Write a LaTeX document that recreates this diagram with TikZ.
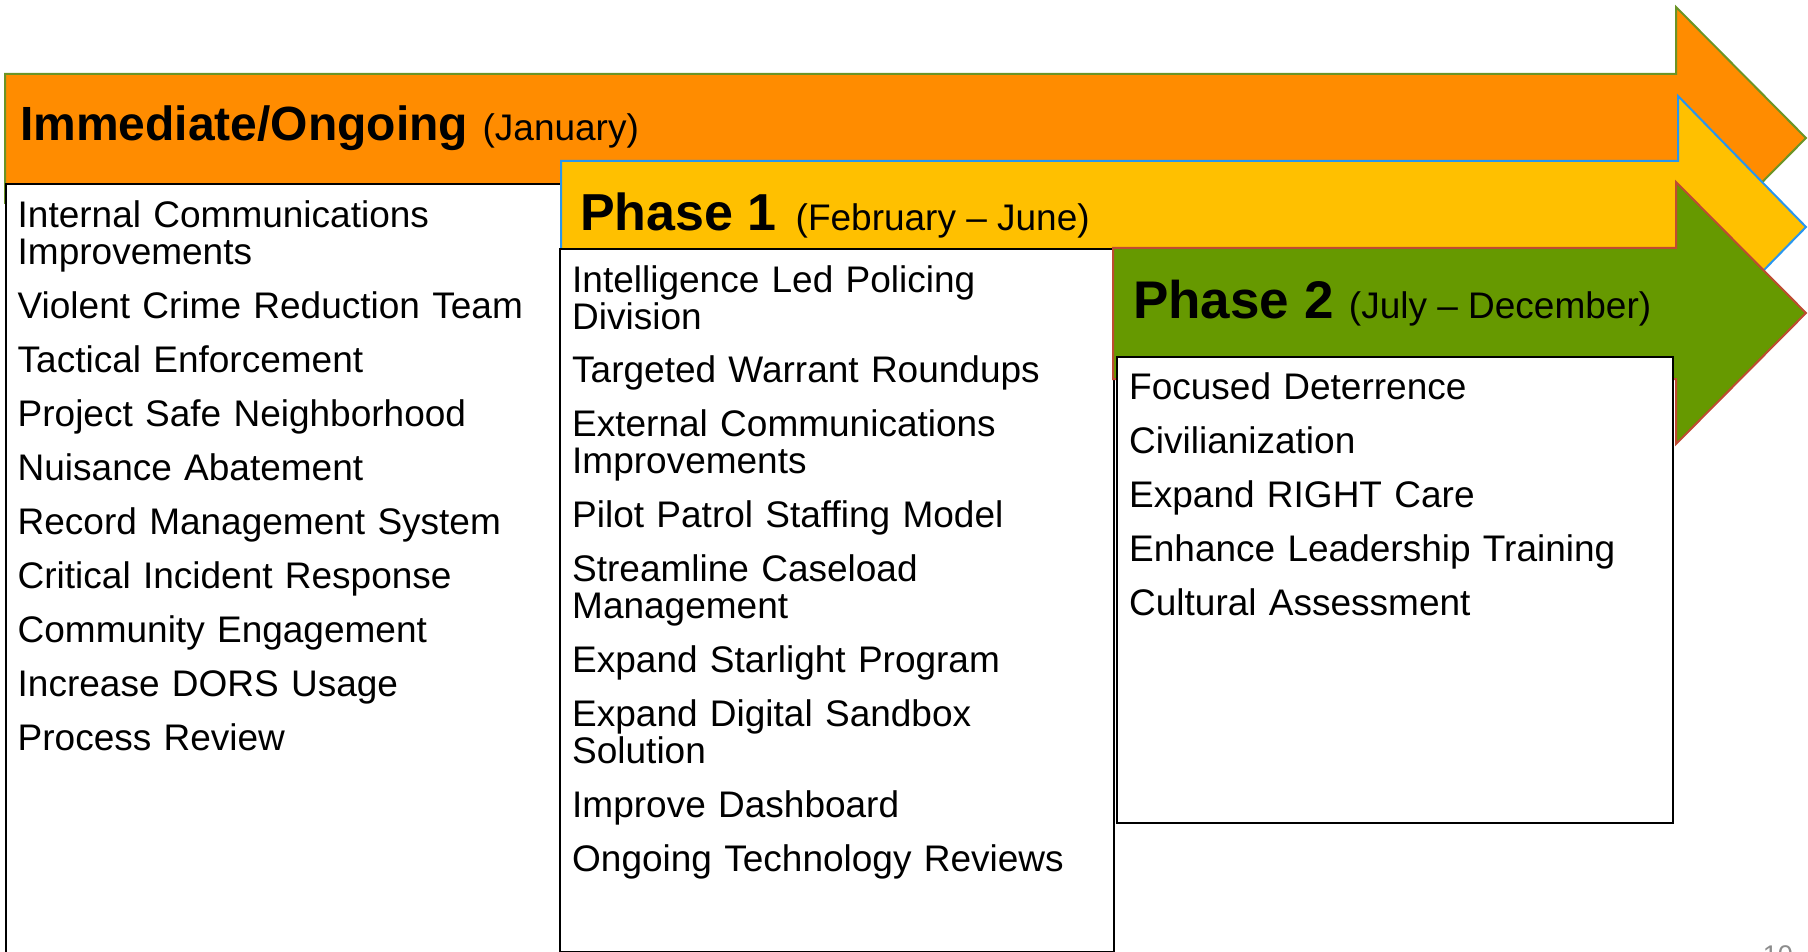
\documentclass[tikz,border=0pt]{standalone}
\usepackage{fontspec}
\setmainfont{Liberation Sans}
\usetikzlibrary{positioning}
\definecolor{nowfill}{RGB}{255,140,0}
\definecolor{nowline}{RGB}{107,148,38}
\definecolor{onefill}{RGB}{255,192,0}
\definecolor{oneline}{RGB}{40,150,240}
\definecolor{twofill}{RGB}{102,153,0}
\definecolor{twoline}{RGB}{190,75,50}
\definecolor{pagegray}{RGB}{140,140,140}
\tikzset{nowarrow/.style={fill=nowfill,draw=nowline,line width=2pt},
	 onearrow/.style={fill=onefill,draw=oneline,line width=2pt},
	 twoarrow/.style={fill=twofill,draw=twoline,line width=2pt},
	 listbox/.style={rectangle,draw=black,fill=white,line width=2pt,inner sep=0pt,anchor=north west},
	 itemlist/.style={text width=530pt,align=left,inner sep=0pt,anchor=base west,font=\fontsize{37}{37}\selectfont},
	 headtext/.style={inner sep=0pt,anchor=base west,font=\fontsize{#1}{#1}\selectfont\bfseries},
	 datetext/.style={inner sep=0pt,font=\fontsize{37}{37}\selectfont}
	 }

\begin{document}
\begin{tikzpicture}[x=1pt,y=-1pt] % roadmap: three overlapping phase arrows
	\useasboundingbox (0,0) rectangle (1808,952);
	\clip (0,0) rectangle (1808,952);
	% immediate / ongoing
	\draw[nowarrow] (5,74) -- (1676,74) -- (1676,7) -- (1806,138) -- (1676,269) -- (1676,203) -- (5,203) -- cycle;
	\node[headtext=48] (head0) at (20,141) {Immediate/Ongoing};
	\node[datetext] (date0) [base right=14pt of head0] {(January)};
	\node[listbox,minimum width=556pt,minimum height=790pt] (box0) at (5,183) {};
	\node[itemlist] (list0) at ([xshift=12.5pt,yshift=-45pt]box0.north west)
		{Internal Communications\\Improvements\\[17pt]
		 Violent Crime Reduction Team\\[17pt]
		 Tactical Enforcement\\[17pt]
		 Project Safe Neighborhood\\[17pt]
		 Nuisance Abatement\\[17pt]
		 Record Management System\\[17pt]
		 Critical Incident Response\\[17pt]
		 Community Engagement\\[17pt]
		 Increase DORS Usage\\[17pt]
		 Process Review};
	% phase 1
	\draw[onearrow] (561,161) -- (1678,161) -- (1678,96) -- (1806,227) -- (1678,358) -- (1678,293) -- (561,293) -- cycle;
	\node[headtext=52] (head1) at (580,231) {Phase 1};
	\node[datetext] (date1) [base right=18.5pt of head1] {(February – June)};
	\node[listbox,minimum width=554pt,minimum height=703pt] (box1) at (559,248) {};
	\node[itemlist] (list1) at ([xshift=13pt,yshift=-44pt]box1.north west)
		{Intelligence Led Policing\\Division\\[17pt]
		 Targeted Warrant Roundups\\[17pt]
		 External Communications\\Improvements\\[17pt]
		 Pilot Patrol Staffing Model\\[17pt]
		 Streamline Caseload\\Management\\[17pt]
		 Expand Starlight Program\\[17pt]
		 Expand Digital Sandbox\\Solution\\[17pt]
		 Improve Dashboard\\[17pt]
		 Ongoing Technology Reviews};
	% phase 2
	\draw[twoarrow] (1113,248) -- (1676,248) -- (1676,182) -- (1806,313) -- (1676,444) -- (1676,379) -- (1113,379) -- cycle;
	\node[headtext=53] (head2) at (1133,319) {Phase 2};
	\node[datetext] (date2) [base right=15pt of head2] {(July – December)};
	\node[listbox,minimum width=556pt,minimum height=466pt] (box2) at (1116,356) {};
	\node[itemlist] (list2) at ([xshift=13pt,yshift=-43pt]box2.north west)
		{Focused Deterrence\\[17pt]
		 Civilianization\\[17pt]
		 Expand RIGHT Care\\[17pt]
		 Enhance Leadership Training\\[17pt]
		 Cultural Assessment};
	% slide number, cut by the page edge
	\node[inner sep=0pt,anchor=base east,text=pagegray,font=\fontsize{27}{27}\selectfont] (pagenum) at (1793,964) {10};
\end{tikzpicture}
\end{document}
